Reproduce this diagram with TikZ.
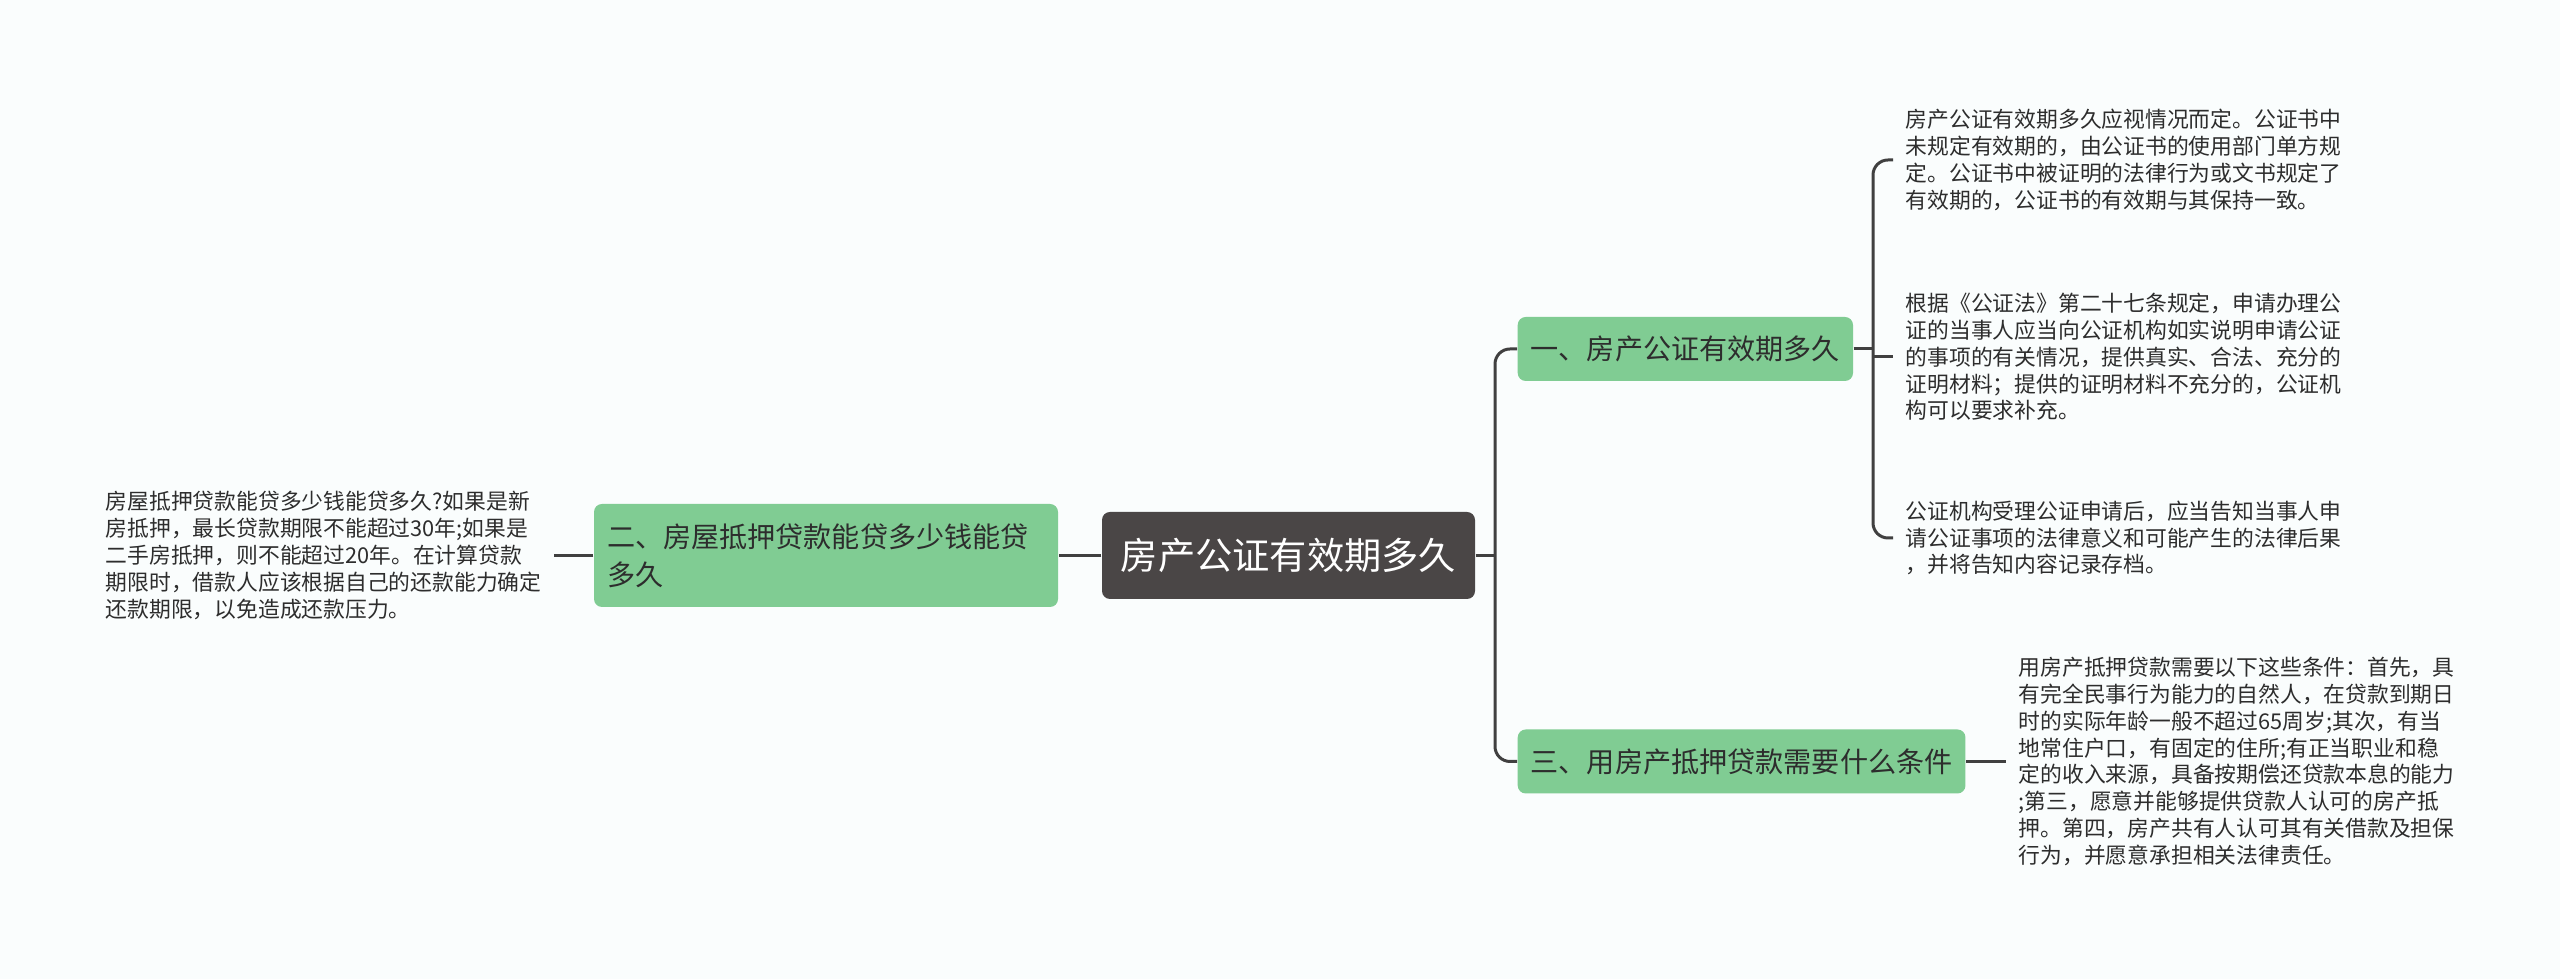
\documentclass[tikz,border=0pt]{standalone}
\usepackage{fontspec}
\setmainfont{Noto Sans CJK SC}
\definecolor{bgpaper}{RGB}{250,253,253}
\definecolor{rootfill}{RGB}{74,70,70}
\definecolor{leaffill}{RGB}{128,204,147}
\definecolor{linkgray}{RGB}{64,64,64}
\definecolor{textgray}{RGB}{45,45,45}

\begin{document}
\begin{tikzpicture}[x=1cm, y=1cm,
  rootbox/.style={fill=rootfill, rounded corners=0.08cm, minimum width=3.73cm,
    minimum height=0.87cm, text=white, font=\fontsize{10.6pt}{12pt}\selectfont},
  topicbox/.style={fill=leaffill, rounded corners=0.08cm, inner xsep=0.13cm,
    minimum height=0.64cm, text=textgray, align=left,
    font=\fontsize{8pt}{10.8pt}\selectfont},
  notetext/.style={inner xsep=0.12cm, inner ysep=0pt, text=textgray, align=left,
    font=\fontsize{6.2pt}{7.62pt}\selectfont},
  link/.style={draw=linkgray, line width=0.85pt}]
\useasboundingbox (0,0) rectangle (25.6,9.79);
\fill[bgpaper] (0,0) rectangle (25.6,9.79);

% root and the three topics
\node[rootbox] (root) at (12.885,4.235) {房产公证有效期多久};
\node[topicbox, text width=4.38cm, minimum height=1.03cm] (topicB) at (8.26,4.235)
  {二、房屋抵押贷款能贷多少钱能贷\\多久};
\node[topicbox, anchor=west] (topicA) at (15.17,6.30) {一、房产公证有效期多久};
\node[topicbox, anchor=west] (topicC) at (15.17,2.175) {三、用房产抵押贷款需要什么条件};

% notes
\node[notetext, anchor=west] (noteA1) at (18.93,8.19)
  {房产公证有效期多久应视情况而定。公证书中\\未规定有效期的，由公证书的使用部门单方规\\定。公证书中被证明的法律行为或文书规定了\\有效期的，公证书的有效期与其保持一致。};
\node[notetext, anchor=west] (noteA2) at (18.93,6.22)
  {根据《公证法》第二十七条规定，申请办理公\\证的当事人应当向公证机构如实说明申请公证\\的事项的有关情况，提供真实、合法、充分的\\证明材料；提供的证明材料不充分的，公证机\\构可以要求补充。};
\node[notetext, anchor=west] (noteA3) at (18.93,4.41)
  {公证机构受理公证申请后，应当告知当事人申\\请公证事项的法律意义和可能产生的法律后果\\，并将告知内容记录存档。};
\node[notetext, anchor=west] (noteC) at (20.06,2.175)
  {用房产抵押贷款需要以下这些条件：首先，具\\有完全民事行为能力的自然人，在贷款到期日\\时的实际年龄一般不超过65周岁;其次，有当\\地常住户口，有固定的住所;有正当职业和稳\\定的收入来源，具备按期偿还贷款本息的能力\\;第三，愿意并能够提供贷款人认可的房产抵\\押。第四，房产共有人认可其有关借款及担保\\行为，并愿意承担相关法律责任。};
\node[notetext, anchor=west] (noteB) at (0.93,4.235)
  {房屋抵押贷款能贷多少钱能贷多久?如果是新\\房抵押，最长贷款期限不能超过30年;如果是\\二手房抵押，则不能超过20年。在计算贷款\\期限时，借款人应该根据自己的还款能力确定\\还款期限，以免造成还款压力。};

% connectors
\coordinate (forkR) at (14.95,4.235);
\coordinate (forkA) at (18.73,6.30);
\draw[link] (root.west) -- (topicB.west -| topicB.east);
\draw[link] (topicB.west) -- (noteB.east);
\draw[link] (root.east) -- (forkR);
\draw[link, rounded corners=0.15cm] (topicA.west) -| (forkR) |- (topicC.west);
\draw[link] (topicA.east) -- (forkA);
\draw[link, rounded corners=0.15cm] (noteA1.west) -| (forkA) |- (noteA3.west);
\draw[link] (noteA2.west -| forkA) -- (noteA2.west);
\draw[link] (topicC.east) -- (noteC.west);
\end{tikzpicture}
\end{document}
